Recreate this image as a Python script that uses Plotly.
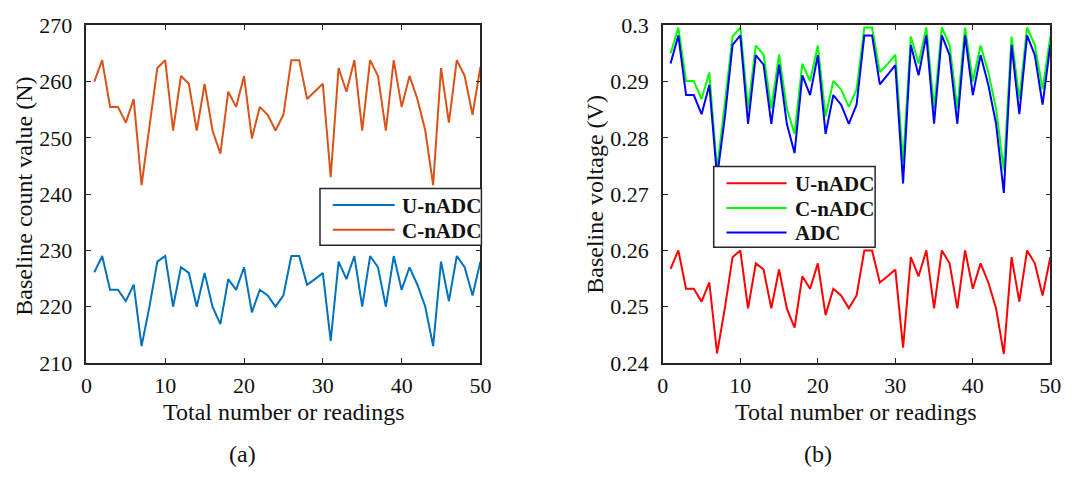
import plotly.graph_objects as go

readings = list(range(1, 51))

# (a) baseline count values
u_nadc_count = [226.1, 229, 223, 223, 221, 223.9, 213, 220, 228, 229,
                220, 227, 226, 220, 226, 220, 216.9, 224.9, 223, 227,
                219, 223, 222, 220, 222, 229, 229, 223.9, 224.9, 226,
                213.9, 228, 224.9, 229, 220, 229, 227, 220, 229, 223,
                227, 223.9, 220, 213, 228, 221, 229, 227, 222, 228]
c_nadc_count = [260.0, 263.8, 255.5, 255.5, 252.7, 256.9, 241.6, 252.5, 262.4, 263.8,
                251.3, 261.0, 259.6, 251.3, 259.6, 251.3, 247.2, 258.2, 255.5, 261.0,
                249.9, 255.5, 254.1, 251.3, 254.1, 263.8, 263.8, 256.9, 258.2, 259.6,
                243.0, 262.4, 258.2, 263.8, 251.3, 263.8, 261.0, 251.3, 263.8, 255.5,
                261.0, 256.9, 251.3, 241.6, 262.4, 252.7, 263.8, 261.0, 254.1, 262.6]

# (b) baseline voltages
u_nadc_v = [0.2567, 0.2600, 0.2532, 0.2532, 0.2509, 0.2543, 0.2417, 0.2497, 0.2588, 0.2600,
            0.2497, 0.2577, 0.2566, 0.2497, 0.2566, 0.2497, 0.2463, 0.2554, 0.2532, 0.2577,
            0.2485, 0.2532, 0.2520, 0.2497, 0.2520, 0.2600, 0.2600, 0.2543, 0.2554, 0.2566,
            0.2427, 0.2588, 0.2554, 0.2600, 0.2497, 0.2600, 0.2577, 0.2497, 0.2600, 0.2532,
            0.2577, 0.2543, 0.2497, 0.2416, 0.2588, 0.2509, 0.2600, 0.2577, 0.2520, 0.2588]
c_nadc_v = [0.2950, 0.2996, 0.2901, 0.2901, 0.2869, 0.2916, 0.2743, 0.2864, 0.2980, 0.2996,
            0.2852, 0.2964, 0.2948, 0.2852, 0.2948, 0.2852, 0.2807, 0.2932, 0.2901, 0.2964,
            0.2838, 0.2901, 0.2886, 0.2855, 0.2886, 0.2996, 0.2996, 0.2917, 0.2931, 0.2948,
            0.2757, 0.2980, 0.2932, 0.2996, 0.2852, 0.2996, 0.2965, 0.2852, 0.2996, 0.2900,
            0.2964, 0.2916, 0.2852, 0.2742, 0.2980, 0.2869, 0.2996, 0.2965, 0.2886, 0.2980]
adc_v = [0.2932, 0.2982, 0.2876, 0.2876, 0.2842, 0.2894, 0.2730, 0.2836, 0.2965, 0.2982,
         0.2825, 0.2947, 0.2930, 0.2825, 0.2930, 0.2825, 0.2773, 0.2911, 0.2876, 0.2947,
         0.2807, 0.2876, 0.2859, 0.2825, 0.2859, 0.2982, 0.2982, 0.2895, 0.2912, 0.2929,
         0.2719, 0.2965, 0.2911, 0.2982, 0.2825, 0.2982, 0.2947, 0.2825, 0.2982, 0.2876,
         0.2947, 0.2894, 0.2825, 0.2702, 0.2965, 0.2842, 0.2982, 0.2947, 0.2859, 0.2965]

x_ticks = [0, 10, 20, 30, 40, 50]
y1_ticks = [210, 220, 230, 240, 250, 260, 270]
y2_ticks = [0.24, 0.25, 0.26, 0.27, 0.28, 0.29, 0.30]
y2_ticktext = ["0.24", "0.25", "0.26", "0.27", "0.28", "0.29", "0.3"]

FONT = "Liberation Serif, Times New Roman, serif"
AX = "#262626"
W, H = 1082, 486

series_a = [("U-nADC", u_nadc_count, "#0072BD"), ("C-nADC", c_nadc_count, "#D95319")]
series_b = [("U-nADC", u_nadc_v, "#FF0000"), ("C-nADC", c_nadc_v, "#00FF00"), ("ADC", adc_v, "#0000FF")]

fig = go.Figure()
for name, vals, col in series_a:
    fig.add_trace(go.Scatter(x=readings, y=vals, mode="lines", name=name, showlegend=False,
                             line=dict(color=col, width=2), xaxis="x", yaxis="y"))
for name, vals, col in series_b:
    fig.add_trace(go.Scatter(x=readings, y=vals, mode="lines", name=name, showlegend=False,
                             line=dict(color=col, width=2), xaxis="x2", yaxis="y2"))

def px_x(p):
    return p / W

def px_y(p):
    return 1 - p / H

axis_common = dict(showline=True, linecolor=AX, linewidth=1.5, mirror="allticks",
                   ticks="inside", ticklen=5, tickwidth=1.2, tickcolor=AX,
                   showgrid=False, zeroline=False,
                   tickfont=dict(family=FONT, size=22, color="#111"))

fig.update_layout(
    width=W, height=H, margin=dict(l=0, r=0, t=0, b=0),
    plot_bgcolor="white", paper_bgcolor="white",
    showlegend=False,
    xaxis=dict(domain=[px_x(81.7), px_x(482)], range=[0, 50], tickvals=x_ticks, anchor="y",
               ticklabelstandoff=2, **axis_common),
    yaxis=dict(domain=[px_y(370), px_y(14)], range=[210, 270], tickvals=y1_ticks, anchor="x",
               ticklabelstandoff=8, **axis_common),
    xaxis2=dict(domain=[px_x(667.3), px_x(1061)], range=[0, 50], tickvals=x_ticks, anchor="y2",
                ticklabelstandoff=2, **axis_common),
    yaxis2=dict(domain=[px_y(370), px_y(14)], range=[0.24, 0.30], tickvals=y2_ticks, ticktext=y2_ticktext,
                anchor="x2", ticklabelstandoff=8, **axis_common),
)

# legend boxes (drawn as shapes + text so the box/line sizes match the original)
legend_font = dict(family=FONT, size=21, color="#111", weight="bold")

def draw_legend(box, entries, row_y, line_x0, line_x1, text_x):
    x0, y0, x1, y1 = box
    fig.add_shape(type="rect", xref="paper", yref="paper",
                  x0=px_x(x0), x1=px_x(x1), y0=px_y(y1), y1=px_y(y0),
                  line=dict(color=AX, width=1.5), fillcolor="white", layer="above")
    for (name, _, col), yy in zip(entries, row_y):
        fig.add_shape(type="line", xref="paper", yref="paper",
                      x0=px_x(line_x0), x1=px_x(line_x1), y0=px_y(yy), y1=px_y(yy),
                      line=dict(color=col, width=2), layer="above")
        fig.add_annotation(xref="paper", yref="paper", x=px_x(text_x), y=px_y(yy + 1),
                           text=name, showarrow=False, xanchor="left", yanchor="middle",
                           font=legend_font)

draw_legend((319, 186, 483, 246), series_a, [203.5, 229.5], 332, 395, 400)
draw_legend((719, 163, 883, 248), series_b, [180.5, 206.5, 232.5], 732, 793, 800)

ann_font = dict(family=FONT, size=24, color="#111")
annotations = [
    dict(text="Baseline count value (N)", x=px_x(18), y=px_y(194), textangle=-90),
    dict(text="Total number or readings", x=px_x(282), y=px_y(422)),
    dict(text="(a)", x=px_x(240), y=px_y(466)),
    dict(text="Baseline voltage (V)", x=px_x(599), y=px_y(192), textangle=-90),
    dict(text="Total number or readings", x=px_x(864), y=px_y(422)),
    dict(text="(b)", x=px_x(825), y=px_y(466)),
]
for a in annotations:
    fig.add_annotation(xref="paper", yref="paper", showarrow=False, font=ann_font,
                       xanchor="center", yanchor="middle", **a)

fig.write_html("out.html")
